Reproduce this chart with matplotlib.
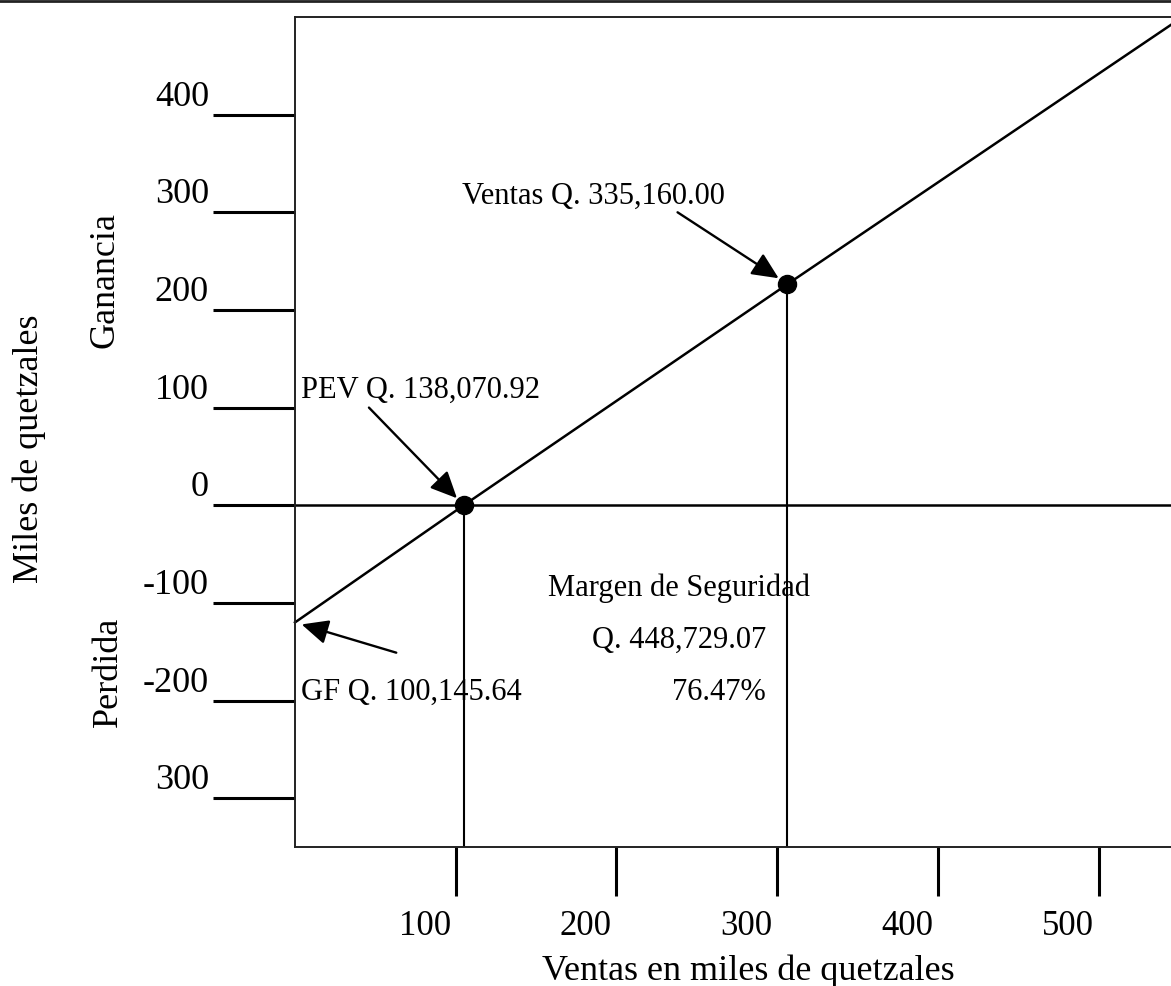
import numpy as np
import matplotlib
matplotlib.use('Agg')
import matplotlib.pyplot as plt
from matplotlib.lines import Line2D

plt.rcParams['font.family'] = ['Liberation Serif', 'DejaVu Serif']

# valores (miles de quetzales)
line_x = [0, 105, 306, 545]
line_y = [-120, 0, 226, 492]
pev = (105, 0)
ventas = (306, 227)
x_ticks = [100, 200, 300, 400, 500]
x_tick_labels = ['100', '200', '300', '400', '500']
y_ticks = [400, 300, 200, 100, 0, -100, -200, -300]
y_tick_labels = ['400', '300', '200', '100', '0', '-100', '-200', '300']

pev_label = 'PEV Q. 138,070.92'
ventas_label = 'Ventas Q. 335,160.00'
gf_label = 'GF Q. 100,145.64'
margen_lines = ['Margen de Seguridad', 'Q. 448,729.07', '76.47%']


def main():
    fig = plt.figure(figsize=(11.71, 9.87), dpi=100)
    ax = fig.add_axes([295 / 1171, 1 - 848 / 987, 876 / 1171, 830 / 987])
    ax.set_xlim(0, 545)
    ax.set_ylim(-350, 500)

    for s in ['left', 'bottom', 'top']:
        ax.spines[s].set_linewidth(1.4)
        ax.spines[s].set_color('#222222')
    ax.spines['right'].set_visible(False)

    # ticks hacia afuera, etiquetas a mano
    ax.set_xticks(x_ticks)
    ax.set_yticks(y_ticks)
    ax.set_xticklabels([])
    ax.set_yticklabels([])
    ax.tick_params(axis='y', direction='out', length=59, width=2.2, color='k')
    ax.tick_params(axis='x', direction='out', length=35, width=2.2, color='k')

    for v, lab in zip(y_ticks, y_tick_labels):
        ax.annotate(lab, xy=(0, v), xycoords=ax.get_yaxis_transform(),
                    xytext=(-86, 10), textcoords='offset pixels',
                    ha='right', va='baseline', fontsize=26, annotation_clip=False)
    for v, lab in zip(x_ticks, x_tick_labels):
        ax.annotate(lab, xy=(v, 0), xycoords=ax.get_xaxis_transform(),
                    xytext=(-31, -87), textcoords='offset pixels',
                    ha='center', va='baseline', fontsize=25, annotation_clip=False)

    ax.axhline(0, color='k', lw=1.8)
    ax.plot(line_x, line_y, color='k', lw=1.8, clip_on=False)
    ax.plot([pev[0], pev[0]], [pev[1], -350], color='k', lw=1.5)
    ax.plot([ventas[0], ventas[0]], [ventas[1], -350], color='k', lw=1.5)
    ax.plot([pev[0], ventas[0]], [pev[1], ventas[1]], 'o', color='k', ms=13)

    arrow = dict(arrowstyle='-|>,head_length=0.65,head_width=0.3',
                 color='k', lw=1.7, mutation_scale=25, shrinkA=0)
    ax.annotate('', xy=pev, xytext=(46, 100), arrowprops=dict(arrow, shrinkB=7))
    ax.annotate('', xy=ventas, xytext=(238, 300), arrowprops=dict(arrow, shrinkB=7))
    ax.annotate('', xy=(line_x[0], line_y[0]), xytext=(63, -151),
                arrowprops=dict(arrow, shrinkB=5))

    ax.text(4, 111, pev_label, fontsize=22, va='baseline')
    ax.text(104, 310, ventas_label, fontsize=22, va='baseline')
    ax.text(4, -198, gf_label, fontsize=22, va='baseline')
    ax.text(239, -92, margen_lines[0], fontsize=22, ha='center', va='baseline')
    ax.text(293, -145, margen_lines[1], fontsize=22, ha='right', va='baseline')
    ax.text(293, -198, margen_lines[2], fontsize=22, ha='right', va='baseline')

    fig.text(748 / 1171, 1 - 980 / 987, 'Ventas en miles de quetzales',
             fontsize=26, ha='center', va='baseline')
    fig.text(29 / 1171, 1 - 449 / 987, 'Miles de quetzales', fontsize=26,
             rotation=90, ha='center', va='center')
    fig.text(105 / 1171, 1 - 280 / 987, 'Ganancia', fontsize=26,
             rotation=90, ha='center', va='center')
    fig.text(108 / 1171, 1 - 672 / 987, 'Perdida', fontsize=26,
             rotation=90, ha='center', va='center')

    fig.add_artist(Line2D([0, 1], [1 - 2 / 987, 1 - 2 / 987], color='#222222', lw=2))

    fig.savefig('out.png', dpi=100)


if __name__ == '__main__':
    main()
